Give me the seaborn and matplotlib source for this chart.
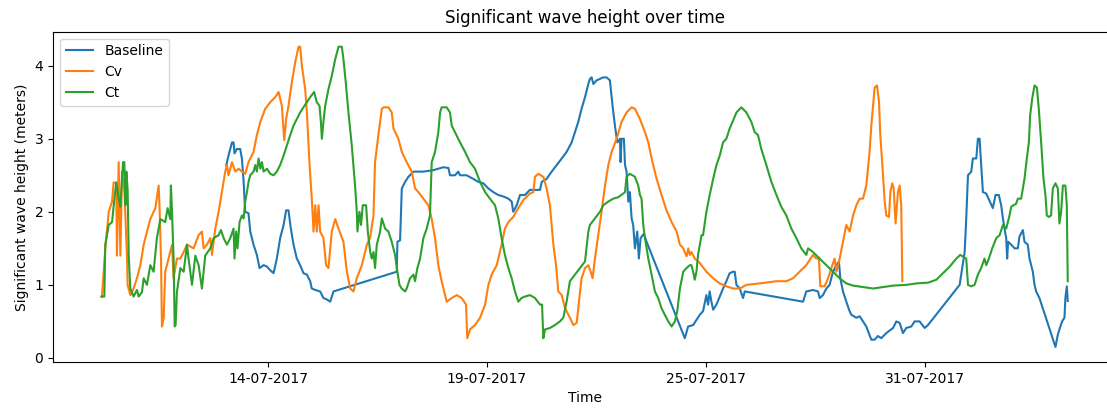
import numpy as np
import pandas as pd
import matplotlib
matplotlib.use("Agg")
import matplotlib.pyplot as plt
import matplotlib.dates as mdates
import seaborn as sns

# Hours elapsed since the first record of the buoy series
START = pd.Timestamp("2017-07-09 17:00")

ct_hours = [
    0.0, 1.9, 2.5, 4.7, 6.8, 8.3, 9.5, 11.0, 12.1, 13.8, 14.6, 15.3, 15.9, 16.7, 17.4, 18.4,
    20.5, 22.6, 23.7, 25.8, 26.9, 29.0, 31.1, 33.2, 35.3, 37.5, 40.6, 42.1, 43.8, 44.2, 44.9,
    45.9, 46.6, 47.2, 48.0, 50.2, 52.3, 54.4, 55.4, 57.6, 59.7, 61.8, 63.9, 66.0, 69.2, 71.3,
    74.5, 76.0, 77.7, 79.8, 81.9, 84.0, 84.6, 85.7, 86.5, 87.8, 89.3, 90.4, 91.4, 92.5, 93.5,
    94.6, 96.7, 97.8, 98.8, 99.9, 101.0, 102.0, 103.1, 105.2, 107.3, 109.4, 111.5, 113.6,
    115.8, 117.9, 120.0, 122.1, 124.2, 126.3, 128.4, 130.6, 132.7, 135.2, 136.9, 138.6, 139.5,
    140.1, 141.1, 142.2, 144.3, 146.4, 148.6, 150.7, 152.8, 153.8, 155.3, 157.0, 159.1, 161.2,
    162.3, 162.7, 164.0, 165.0, 166.1, 168.2, 169.3, 170.8, 171.8, 172.9, 173.9, 175.0, 177.1,
    178.2, 180.3, 182.4, 184.5, 186.6, 188.1, 189.4, 190.8, 193.0, 194.0, 196.1, 198.3, 199.3,
    200.8, 202.5, 204.6, 206.7, 208.8, 209.9, 212.0, 214.1, 215.2, 216.2, 219.4, 221.5, 222.6,
    224.7, 227.9, 231.1, 234.2, 237.4, 240.6, 243.8, 246.9, 250.1, 252.2, 254.3, 256.4, 258.6,
    260.7, 262.8, 264.9, 267.0, 269.1, 272.3, 275.5, 278.7, 280.0, 280.8, 281.9, 285.0, 288.2,
    291.4, 293.5, 295.6, 297.7, 300.9, 304.1, 307.3, 309.4, 310.4, 313.6, 316.8, 318.9, 322.1,
    325.2, 328.4, 331.6, 332.7, 333.7, 335.8, 339.0, 341.1, 342.2, 343.2, 344.3, 345.4, 347.5,
    349.6, 351.7, 353.8, 355.9, 358.0, 360.2, 362.3, 364.4, 365.9, 367.6, 369.7, 371.8, 373.9,
    374.9, 376.0, 377.0, 378.1, 379.1, 381.3, 382.3, 384.4, 386.5, 388.7, 390.8, 392.9, 395.0,
    397.1, 399.2, 401.4, 403.5, 406.6, 409.8, 413.0, 415.1, 417.2, 419.3, 422.5, 425.7, 428.9,
    432.0, 435.2, 438.4, 441.6, 444.7, 447.9, 449.0, 452.1, 456.4, 460.6, 464.8, 469.1, 473.3,
    477.6, 483.9, 490.3, 496.6, 503.0, 511.4, 517.8, 525.2, 530.5, 534.7, 539.0, 543.2, 545.7,
    549.5, 550.6, 552.7, 554.8, 556.9, 559.0, 561.1, 562.2, 563.9, 566.0, 568.6, 570.7, 572.8,
    574.9, 577.0, 578.1, 579.5, 581.2, 582.3, 584.4, 585.5, 586.5, 588.0, 589.3, 590.1, 591.4,
    592.9, 594.4, 595.6, 597.1, 598.6, 599.8, 600.7, 602.0, 603.4, 604.5, 606.2, 607.7, 608.7,
    609.8, 610.9, 612.5, 613.4, 614.0,
]
ct_values = [
    0.84, 0.84, 1.55, 1.82, 1.86, 2.18, 2.40, 2.18, 2.07, 2.68, 2.68, 2.09, 2.55, 2.30, 1.40, 0.95,
    0.84, 0.93, 0.84, 0.90, 1.09, 1.00, 1.27, 1.18, 1.64, 1.90, 1.86, 2.05, 1.90, 2.36, 2.00,
    1.36, 0.43, 0.45, 0.90, 1.23, 1.18, 1.55, 1.36, 1.00, 1.40, 1.27, 0.95, 1.40, 1.50, 1.64,
    1.68, 1.75, 1.64, 1.55, 1.64, 1.77, 1.36, 1.73, 1.50, 1.86, 1.95, 1.91, 2.14, 2.27, 2.41,
    2.50, 2.55, 2.64, 2.55, 2.73, 2.59, 2.68, 2.55, 2.59, 2.52, 2.50, 2.55, 2.64,
    2.77, 2.91, 3.05, 3.18, 3.27, 3.36, 3.43, 3.50, 3.57, 3.64, 3.50, 3.45, 3.23,
    3.00, 3.23, 3.45, 3.68, 3.86, 4.09, 4.26, 4.26, 4.09, 3.77, 3.36, 2.91, 2.36,
    2.00, 1.73, 2.00, 1.82, 2.09, 2.09, 1.73, 1.45, 1.36, 1.45, 1.23, 1.55, 1.73,
    1.91, 1.77, 1.73, 1.59, 1.41, 1.18, 1.00, 0.95, 0.91, 0.95, 1.09, 1.14, 1.05,
    1.23, 1.36, 1.64, 1.77, 1.95, 2.68, 2.82, 3.09, 3.36, 3.43, 3.43, 3.36, 3.18,
    3.09, 2.95, 2.82, 2.68, 2.59, 2.41, 2.27, 2.18, 2.09, 1.91, 1.64, 1.41, 1.23,
    1.09, 0.91, 0.77, 0.82, 0.84, 0.86, 0.82, 0.73, 0.73, 0.27, 0.39, 0.41, 0.45,
    0.50, 0.55, 0.77, 1.05, 1.14, 1.23, 1.32, 1.73, 1.82, 1.91, 2.00, 2.09, 2.14,
    2.18, 2.20, 2.25, 2.27, 2.48, 2.52, 2.48, 2.36, 2.23, 2.18, 1.82, 1.64, 1.36,
    1.14, 0.91, 0.82, 0.68, 0.59, 0.50, 0.43, 0.50, 0.64, 0.95, 1.18, 1.23, 1.27,
    1.27, 1.18, 1.07, 1.18, 1.41, 1.68, 1.68, 2.00, 2.23, 2.45, 2.64, 2.77, 2.95,
    3.00, 3.14, 3.25, 3.36, 3.43, 3.36, 3.23, 3.09, 3.05, 2.86, 2.64, 2.41, 2.23,
    2.07, 1.95, 1.77, 1.64, 1.50, 1.41, 1.50, 1.45, 1.36, 1.27, 1.18, 1.09, 1.02,
    0.99, 0.97, 0.95, 0.97, 0.99, 1.00, 1.02, 1.03, 1.07, 1.16, 1.25, 1.36, 1.41,
    1.36, 1.00, 0.98, 1.00, 1.14, 1.23, 1.36, 1.27, 1.36, 1.50, 1.64, 1.68, 1.82,
    1.77, 1.95, 2.07, 2.09, 2.11, 2.18, 2.18, 2.32, 2.45, 2.73, 2.95, 3.32, 3.55,
    3.73, 3.70, 3.41, 2.95, 2.45, 2.23, 1.95, 1.93, 1.95, 2.32, 2.39, 2.32, 1.84,
    2.00, 2.36, 2.36, 2.09, 1.05,
]

cv_hours = [
    0.4, 2.5, 4.7, 6.8, 7.8, 9.5, 9.9, 11.0, 12.1, 13.1, 14.6, 16.3, 16.7, 18.4, 20.5, 22.6,
    24.8, 26.9, 29.0, 31.1, 34.3, 36.4, 37.0, 37.9, 38.5, 39.6, 40.6, 42.7, 44.9, 45.9, 48.0,
    50.2, 52.3, 54.4, 58.6, 61.8, 63.9, 65.0, 67.1, 69.2, 70.3, 72.4, 74.5, 76.6, 78.7, 79.8,
    80.8, 83.0, 85.1, 87.2, 89.3, 91.4, 93.5, 96.7, 98.8, 101.0, 104.1, 107.3, 110.5, 112.6,
    114.7, 116.2, 117.4, 118.9, 121.0, 123.2, 125.3, 126.3, 127.4, 129.5, 130.6, 132.3, 133.7,
    134.8, 135.9, 136.9, 138.0, 139.0, 141.1, 142.8, 144.3, 146.4, 148.6, 150.7, 153.8, 156.0,
    158.1, 160.2, 162.3, 165.5, 168.7, 170.7, 172.9, 173.9, 176.0, 178.2, 179.2, 182.4, 184.5,
    185.6, 188.7, 190.9, 194.0, 197.2, 199.3, 201.4, 204.6, 207.8, 209.9, 212.0, 214.1, 216.2,
    219.4, 222.6, 225.8, 228.9, 231.7, 232.5, 234.2, 237.4, 240.6, 243.8, 245.9, 248.0, 251.2,
    254.3, 256.4, 258.6, 261.7, 264.9, 268.1, 272.3, 274.5, 275.5, 277.6, 280.8, 282.9, 285.0,
    287.2, 288.9, 290.3, 292.5, 294.6, 297.7, 299.9, 302.0, 303.7, 305.1, 307.3, 309.4, 310.9,
    312.1, 313.6, 315.7, 317.8, 320.0, 322.1, 324.2, 327.4, 330.5, 333.7, 336.9, 339.0, 342.2,
    345.4, 347.5, 349.6, 352.8, 355.9, 359.1, 362.3, 365.5, 367.6, 369.7, 371.8, 372.9, 373.9,
    374.9, 377.0, 380.2, 384.4, 388.7, 392.9, 397.1, 401.4, 405.6, 409.8, 418.3, 428.9, 435.2,
    439.4, 443.7, 447.9, 452.1, 454.3, 455.9, 456.8, 459.5, 461.7, 463.8, 465.9, 467.0, 469.1,
    471.2, 473.3, 475.4, 477.6, 479.7, 481.8, 483.9, 486.0, 488.1, 489.2, 490.3, 491.3, 492.8,
    494.1, 494.9, 496.2, 497.7, 498.7, 500.4, 501.3, 502.5, 503.4, 504.6, 506.1, 507.2, 508.2,
    508.9,
]
cv_values = [
    0.84, 1.50, 2.00, 2.14, 2.40, 2.40, 1.40, 2.68, 1.40, 2.55, 2.30, 1.40, 1.00, 0.86, 0.95, 1.09,
    1.27, 1.55, 1.73, 1.90, 2.05, 2.36, 2.05, 1.36, 0.43, 0.55, 1.18, 1.36, 1.55, 1.09, 1.36,
    1.36, 1.45, 1.55, 1.50, 1.68, 1.73, 1.50, 1.55, 1.64, 1.41, 1.77, 2.00, 2.27, 2.55, 2.64,
    2.50, 2.68, 2.55, 2.59, 2.55, 2.52, 2.68, 2.82, 3.05, 3.23, 3.41, 3.50, 3.57, 3.64,
    3.45, 2.98, 3.27, 3.45, 3.77, 4.05, 4.26, 4.26, 4.00, 3.68, 3.36, 2.64, 2.18,
    1.73, 2.09, 1.73, 2.09, 1.73, 1.64, 1.27, 1.23, 1.73, 1.90, 1.77, 1.59, 1.18,
    0.95, 0.91, 1.09, 1.27, 1.55, 1.64, 1.95, 2.68, 3.05, 3.41, 3.43, 3.43, 3.36,
    3.14, 3.00, 2.82, 2.68, 2.55, 2.32, 2.27, 2.18, 2.09, 1.90, 1.64, 1.27, 1.05,
    0.77, 0.82, 0.86, 0.82, 0.73, 0.27, 0.39, 0.45, 0.55, 0.73, 1.00, 1.14, 1.27,
    1.55, 1.77, 1.86, 1.93, 2.05, 2.16, 2.25, 2.27, 2.48, 2.52, 2.48, 2.32, 2.09,
    1.55, 1.27, 0.91, 0.86, 0.68, 0.55, 0.45, 0.48, 0.82, 1.09, 1.23, 1.27, 1.18,
    1.09, 1.36, 1.68, 2.00, 2.36, 2.64, 2.82, 3.00, 3.23, 3.36, 3.43, 3.41, 3.27,
    3.09, 2.95, 2.73, 2.45, 2.23, 2.02, 1.86, 1.73, 1.55, 1.50, 1.39, 1.50, 1.41,
    1.45, 1.36, 1.30, 1.18, 1.09, 1.02, 0.98, 0.95, 0.95, 1.00, 1.02, 1.05, 1.05,
    1.09, 1.18, 1.27, 1.41, 1.36, 1.36, 0.98, 0.98, 1.09, 1.23, 1.36, 1.18, 1.36,
    1.59, 1.82, 1.73, 1.95, 2.09, 2.18, 2.18, 2.36, 2.82, 3.18, 3.45, 3.70, 3.73,
    3.50, 3.05, 2.64, 2.14, 1.95, 1.93, 2.27, 2.39, 2.32, 1.84, 2.27, 2.36, 2.09,
    1.05,
]

baseline_hours = [
    79.4, 80.8, 83.0, 84.0, 84.6, 86.1, 88.2, 89.3, 90.4, 91.4, 93.5, 94.6, 96.7, 98.8, 100.5,
    103.1, 105.2, 107.3, 109.4, 111.5, 113.6, 115.8, 117.4, 118.9, 120.4, 122.1, 124.2, 126.3,
    128.4, 130.6, 132.7, 133.7, 135.9, 139.0, 141.1, 143.3, 145.4, 147.5, 187.7, 188.1, 189.8,
    190.9, 193.0, 195.1, 198.3, 204.6, 210.9, 214.1, 217.3, 220.5, 221.5, 224.7, 226.8, 227.9,
    232.1, 236.3, 239.5, 242.7, 245.9, 249.0, 252.2, 255.4, 258.6, 260.7, 261.7, 263.9, 266.0,
    269.1, 272.3, 278.7, 279.8, 282.9, 286.1, 289.3, 292.5, 295.6, 298.8, 300.9, 303.0, 305.1,
    307.3, 309.4, 310.4, 311.5, 312.6, 314.7, 316.8, 318.9, 321.0, 323.1, 324.8, 326.3, 327.8,
    329.5, 329.9, 330.5, 332.0, 332.7, 333.7, 334.8, 335.8, 336.9, 337.9, 339.0, 340.5, 341.5,
    342.6, 344.7, 346.4, 370.7, 372.8, 376.0, 378.1, 380.2, 382.3, 384.4, 385.5, 386.5, 387.6,
    388.7, 390.8, 392.9, 395.0, 397.1, 399.2, 401.4, 402.4, 403.5, 405.6, 407.7, 408.8, 445.8,
    447.9, 452.1, 455.3, 456.4, 458.5, 460.6, 462.7, 464.8, 467.0, 468.6, 469.5, 471.2, 473.3,
    475.4, 476.5, 479.7, 481.8, 483.9, 486.0, 489.2, 491.3, 493.4, 495.5, 498.7, 503.0, 505.1,
    507.2, 509.3, 511.4, 514.6, 516.7, 519.9, 523.1, 525.2, 545.3, 548.5, 549.5, 550.6, 552.7,
    553.7, 555.9, 556.9, 558.0, 559.0, 560.1, 562.2, 564.3, 566.4, 568.1, 570.2, 571.7, 572.8,
    573.8, 574.9, 575.5, 576.1, 578.1, 580.2, 582.3, 583.3, 585.5, 586.5, 588.6, 589.7, 591.8,
    592.9, 593.9, 596.0, 606.2, 607.7, 608.7, 610.4, 611.9, 612.5, 613.4, 614.0,
]
baseline_values = [
    2.64, 2.77, 2.95, 2.95, 2.80, 2.86, 2.86, 2.73, 2.41, 2.00, 1.98, 1.73, 1.55, 1.41, 1.23,
    1.27, 1.25, 1.20, 1.16, 1.36, 1.64, 1.82, 2.02, 2.02, 1.77, 1.55, 1.36, 1.27,
    1.16, 1.14, 1.05, 0.95, 0.93, 0.91, 0.82, 0.80, 0.77, 0.91, 1.18, 1.59, 1.61,
    2.32, 2.41, 2.48, 2.55, 2.55, 2.57, 2.59, 2.61, 2.60, 2.50, 2.50, 2.55, 2.50,
    2.50, 2.45, 2.41, 2.39, 2.32, 2.27, 2.23, 2.21, 2.18, 2.14, 2.00, 2.09, 2.23,
    2.23, 2.30, 2.30, 2.41, 2.45, 2.55, 2.64, 2.73, 2.82, 2.95, 3.09, 3.23, 3.41,
    3.57, 3.75, 3.82, 3.84, 3.75, 3.80, 3.82, 3.84, 3.84, 3.80, 3.45, 3.18, 2.95,
    3.00, 2.68, 3.00, 3.00, 2.64, 2.55, 2.14, 2.27, 1.91, 1.82, 1.50, 1.73, 1.36,
    1.64, 1.70, 1.59, 0.27, 0.43, 0.45, 0.52, 0.59, 0.64, 0.86, 0.73, 0.91, 0.77,
    0.66, 0.73, 0.84, 0.95, 1.05, 1.16, 1.18, 1.18, 1.00, 0.95, 0.82, 0.91, 0.77,
    0.91, 0.93, 0.91, 0.82, 0.86, 0.95, 1.00, 1.18, 1.27, 1.32, 1.09, 0.91, 0.77,
    0.64, 0.59, 0.55, 0.57, 0.50, 0.43, 0.25, 0.25, 0.30, 0.27, 0.34, 0.41, 0.50,
    0.48, 0.34, 0.41, 0.43, 0.50, 0.50, 0.41, 0.45, 1.00, 1.45, 1.91, 2.50, 2.55,
    2.73, 2.73, 3.00, 3.00, 2.64, 2.27, 2.25, 2.15, 2.05, 2.23, 2.23, 2.09, 1.91,
    1.77, 1.64, 1.36, 1.59, 1.55, 1.50, 1.50, 1.66, 1.75, 1.59, 1.55, 1.36, 1.18,
    1.00, 0.91, 0.82, 0.15, 0.32, 0.39, 0.50, 0.55, 0.82, 0.98, 0.78,
]

series_names = ["Baseline", "Cv", "Ct"]
series_colors = ["#1f77b4", "#ff7f0e", "#2ca02c"]
tick_times = ["2017-07-14 03:00", "2017-07-19 22:00", "2017-07-25 17:00", "2017-07-31 12:00"]


def to_frame(name, hours, values):
    return pd.DataFrame({
        "Time": START + pd.to_timedelta(np.asarray(hours), unit="h"),
        "Hs": values,
        "model": name,
    })


df = pd.concat([
    to_frame("Baseline", baseline_hours, baseline_values),
    to_frame("Cv", cv_hours, cv_values),
    to_frame("Ct", ct_hours, ct_values),
], ignore_index=True)

fig = plt.figure(figsize=(11.07, 4.12), dpi=100)
ax = fig.add_axes([0.0479, 0.1214, 0.9603, 0.8017])

sns.lineplot(data=df, x="Time", y="Hs", hue="model", hue_order=series_names,
             palette=series_colors, estimator=None, linewidth=1.5, ax=ax)

sns.move_legend(ax, "upper left", title=None, frameon=True)

ax.set_xticks(pd.to_datetime(tick_times))
ax.xaxis.set_major_formatter(mdates.DateFormatter("%d-%m-%Y"))
ax.set_yticks([0, 1, 2, 3, 4])

ax.set_title("Significant wave height over time")
ax.set_xlabel("Time")
ax.set_ylabel("Significant wave height (meters)")

fig.savefig("out.png", dpi=100)
